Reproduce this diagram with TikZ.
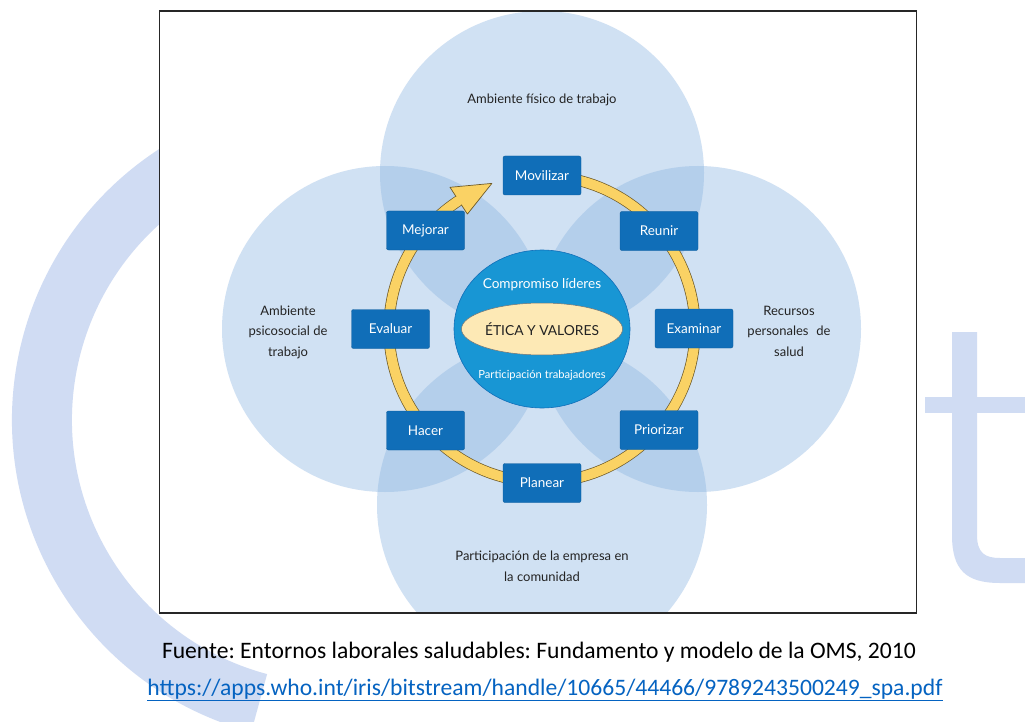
\documentclass[tikz,border=0pt]{standalone}
\usepackage{fontspec}
\setmainfont{Lato}
\newfontfamily\capfont{Carlito}
\usetikzlibrary{shapes.geometric}
\definecolor{wm}{RGB}{208,220,243}
\definecolor{circ}{RGB}{138,180,225}
\definecolor{boxblue}{RGB}{16,110,184}
\definecolor{centerblue}{RGB}{24,150,212}
\definecolor{ringyellow}{RGB}{250,210,100}
\definecolor{ringedge}{RGB}{110,90,40}
\definecolor{cream}{RGB}{253,233,181}
\definecolor{linkblue}{RGB}{5,99,193}
\definecolor{labeltext}{RGB}{35,35,35}
\frenchspacing
\begin{document}
\begin{tikzpicture}[x=1pt,y=-1pt,
  stepbox/.style={fill=boxblue, draw=boxblue!85!black, line width=0.4pt, rounded corners=2pt,
    minimum width=78pt, minimum height=39pt, text=white, inner sep=0pt,
    font=\fontsize{13.5}{15}\selectfont},
  zone/.style={fill=circ, fill opacity=0.4},
  zonelabel/.style={align=center, text=labeltext, inner sep=0pt,
    font=\fontsize{13}{20.5}\selectfont},
  frame/.style={draw=black!85, line width=1.1pt, minimum width=757pt, minimum height=602pt, inner sep=0pt}
]
\useasboundingbox (0,0) rectangle (1025,722);
\fill[white] (0,0) rectangle (1025,722);
% watermark "C"
\draw[wm, line width=60pt] (335,420) ++(105:293) arc[start angle=105, end angle=252, radius=293];
% watermark "t"
\fill[wm] (952,332) -- (977,332) -- (977,535) .. controls (977,553) and (985,558) .. (1000,558)
  -- (1025,558) -- (1025,583) -- (1000,583) .. controls (966,583) and (952,570) .. (952,535) -- cycle;
\fill[wm] (925,397) rectangle (1025,413);
% frame
\node[frame, fill=white] (frame) at (538,312) {};
\begin{scope}
  \clip (159.5,11) rectangle (916.5,613);
  \fill[zone] (542,173) circle[radius=162];
  \fill[zone] (385,329) circle[radius=163];
  \fill[zone] (698,329) circle[radius=163];
  \fill[zone] (542,505) circle[radius=165];
\end{scope}
\node[frame] (frameline) at (538,312) {};
% ring
\coordinate (rc) at (542,329);
\draw[ringedge, line width=11.2pt] (rc) ++(270:153) arc[start angle=270, end angle=598, radius=153];
\draw[ringyellow, line width=9.8pt] (rc) ++(270:153) arc[start angle=270, end angle=598, radius=153];
\fill[ringyellow] (456.1,196.7) -- (450,187.3) -- (491.9,183.4) -- (467.4,214.1) -- (461.3,204.7) -- cycle;
\draw[ringedge, line width=0.7pt, line join=round] (456.1,196.7) -- (450,187.3) -- (491.9,183.4) -- (467.4,214.1) -- (461.3,204.7);
% steps
\node[stepbox] (mov) at (542,175.5) {Movilizar};
\node[stepbox] (reu) at (659,231) {Reunir};
\node[stepbox] (exa) at (694,328.5) {Examinar};
\node[stepbox] (pri) at (659,430) {Priorizar};
\node[stepbox] (pla) at (542,483) {Planear};
\node[stepbox] (hac) at (425.5,430.5) {Hacer};
\node[stepbox] (eva) at (390.5,329) {Evaluar};
\node[stepbox] (mej) at (425.5,230.5) {Mejorar};
% core
\node[ellipse, fill=centerblue, draw=boxblue, line width=0.6pt, minimum width=176pt, minimum height=158pt] (core) at (542,329) {};
\node[ellipse, fill=cream, draw=black!55, line width=0.5pt, minimum width=130pt, minimum height=52pt, inner sep=0pt,
  font=\fontsize{13.8}{15}\selectfont, text=labeltext] (etica) at (542,329) {ÉTICA Y VALORES};
\node[text=white, font=\fontsize{13.6}{15}\selectfont] (lid) at (542,285) {Compromiso líderes};
\node[text=white, font=\fontsize{11.2}{12}\selectfont] (trab) at (542,375) {Participación trabajadores};
% zone labels
\node[zonelabel] (fis) at (542,100) {Ambiente físico de trabajo};
\node[zonelabel] (psi) at (288,332) {Ambiente\\psicosocial de\\trabajo};
\node[zonelabel] (rec) at (789,331) {Recursos\\personales\hspace{0.6em}de\\salud};
\node[zonelabel] (com) at (542,566.5) {Participación de la empresa en\\la comunidad};
% caption
\node[font=\capfont\fontsize{23.6}{25}\selectfont, text=black] (fuente) at (539,652) {Fuente: Entornos laborales saludables: Fundamento y modelo de la OMS, 2010};
\node[font=\capfont\fontsize{23.6}{25}\selectfont, text=linkblue] (link) at (545,690) {\underline{https://apps.who.int/iris/bitstream/handle/10665/44466/9789243500249\_spa.pdf}};
\end{tikzpicture}
\end{document}
